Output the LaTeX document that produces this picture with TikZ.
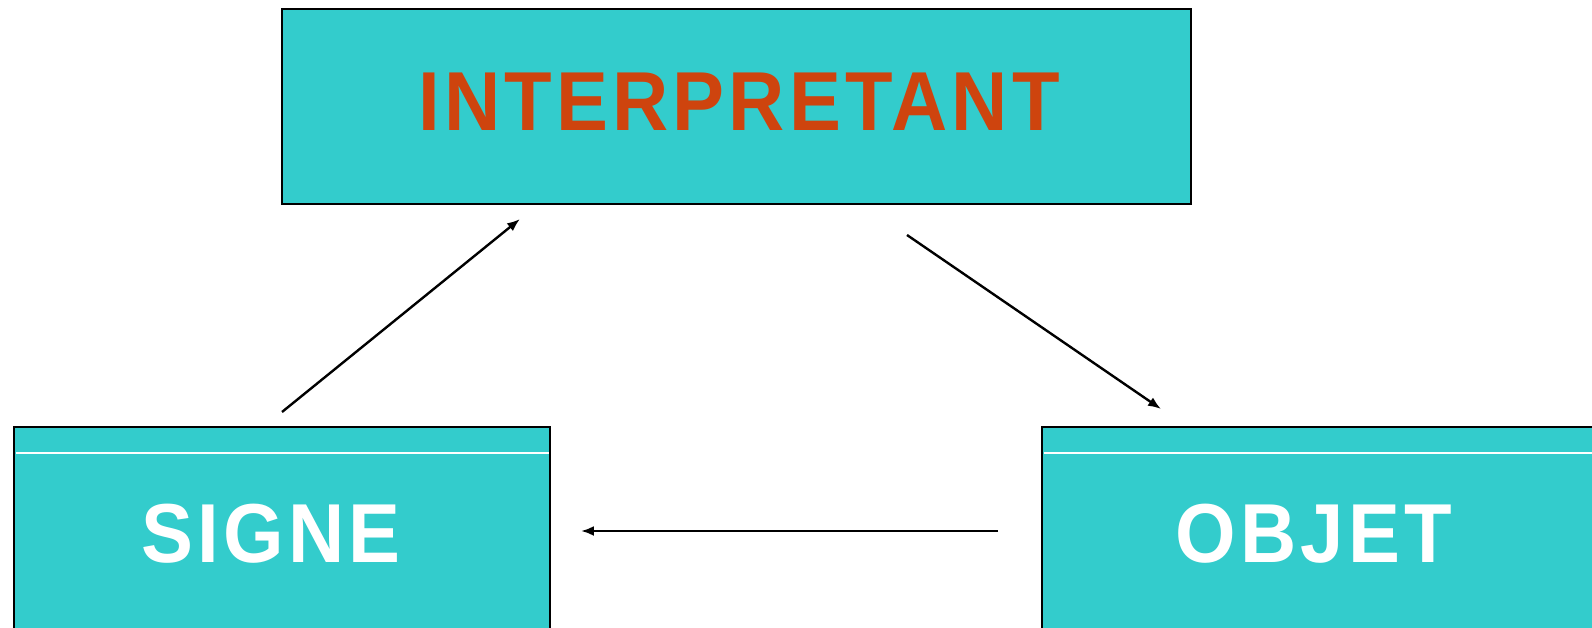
\documentclass[tikz,border=0pt]{standalone}
\usepackage{fontspec}
\setmainfont{Liberation Sans}
\newfontfamily\termfont[FakeStretch=0.93,LetterSpace=5]{Liberation Sans}
\usetikzlibrary{arrows.meta}
\definecolor{boxcyan}{RGB}{51,204,204}
\definecolor{termred}{RGB}{206,68,14}
\tikzset{boxes/.style={draw=black,line width=2.6pt},
  term/.style={font=\termfont\bfseries\fontsize{84}{84}\selectfont,inner sep=0pt},
  link/.style={line width=2.4pt,-{Latex[length=13pt,width=10pt]}}}
\begin{document}
\begin{tikzpicture}[x=1bp,y=-1bp]
\useasboundingbox (0,0) rectangle (1592,628);
% boxes
\fill [boxcyan] (282,9) rectangle (1191,204);
\draw [boxes] (282,9) rectangle (1191,204);
\fill [boxcyan] (14,427) rectangle (550,628);
\draw [boxes] (14,628) -- (14,427) -- (550,427) -- (550,628);
\fill [boxcyan] (1042,427) rectangle (1592,628);
\draw [boxes] (1042,628) -- (1042,427) -- (1592,427);
\draw [white,line width=1.4pt] (15.5,453) to (548.5,453);
\draw [white,line width=1.4pt] (1043.5,453) to (1592,453);
% labels
\node[term,termred] (interp) at (739,102) {INTERPRETANT};
\node[term,white] (signe) at (271,534) {SIGNE};
\node[term,white] (objet) at (1314,534) {OBJET};
% arrows
\coordinate (s1) at (282,412);
\coordinate (i1) at (520,219);
\coordinate (i2) at (907,235);
\coordinate (o1) at (1161,409);
\coordinate (o2) at (998,531);
\coordinate (s2) at (581,531);
\draw [link] (s1) to (i1);
\draw [link] (i2) to (o1);
\draw [link] (o2) to (s2);
\end{tikzpicture}
\end{document}
